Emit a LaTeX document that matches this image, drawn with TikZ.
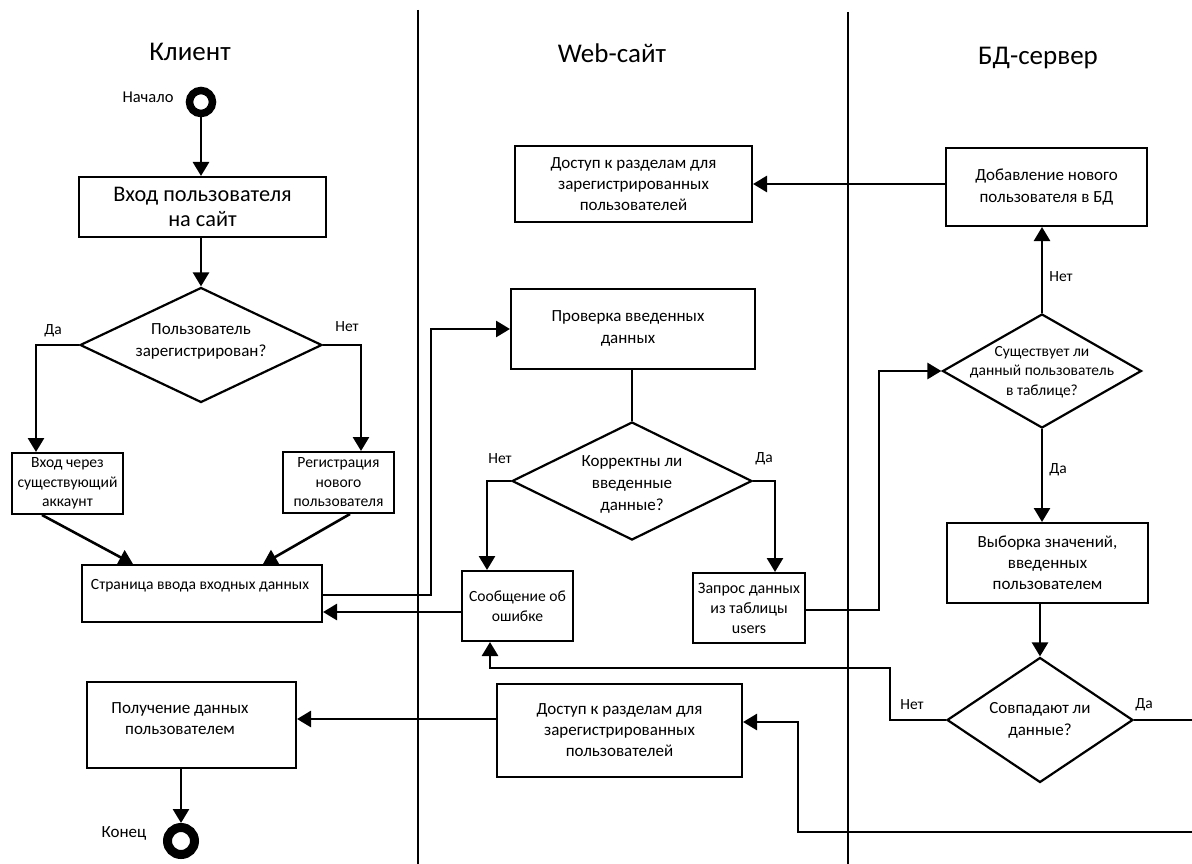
\documentclass[tikz,border=0pt]{standalone}
\usepackage{fontspec}
\setmainfont{Carlito}
\usetikzlibrary{arrows.meta,shapes.geometric,calc}
\newcommand{\fs}[2]{\fontsize{#1}{#2}\selectfont}
\begin{document}
\begin{tikzpicture}[x=1pt,y=-1pt,
  box/.style={draw, line width=2pt, align=center, inner sep=2pt, font=\fs{15.6}{19.5}},
  bigbox/.style={box, font=\fs{17}{21}},
  dec/.style={draw, diamond, line width=2.2pt, inner sep=0pt},
  dtext/.style={align=center, font=\fs{17}{22}},
  arr/.style={line width=2.6pt, -{Triangle[length=14pt,width=16pt]}},
  ln/.style={line width=2.6pt},
  lane/.style={line width=2.6pt},
  lbl/.style={font=\fs{15.5}{18}},
  hdr/.style={font=\fs{27}{30}},
  startc/.style={draw, circle, inner sep=0pt}]
\useasboundingbox[fill=white] (0,0) rectangle (1192,864);

% lanes
\coordinate (laneA1) at (418,10);
\coordinate (laneA2) at (418,870);
\coordinate (laneB1) at (848,12);
\coordinate (laneB2) at (848,870);
\draw[lane] (laneA1) -- (laneA2);
\draw[lane] (laneB1) -- (laneB2);

% headers
\node[hdr] (h1) at (190,52) {Клиент};
\node[hdr] (h2) at (612,53) {Web-сайт};
\node[hdr] (h3) at (1038,58) {БД-сервер};

% client lane
\node[startc, line width=7.5pt, minimum size=23pt] (start) at (201,102) {};
\node[lbl, font=\fs{16.5}{18}] (startl) at (148,97) {Начало};
\node[box, minimum width=247pt, minimum height=60pt, font=\fs{22.3}{25}] (b1) at (202.5,207) {Вход пользователя\\на сайт};
\node[dec, minimum width=242pt, minimum height=115pt] (d1) at (201,345) {};
\node[dtext] (d1t) at (201,341) {Пользователь\\зарегистрирован?};
\node[lbl] (d1y) at (53,331) {Да};
\node[lbl] (d1n) at (347,327) {Нет};
\node[box, minimum width=111pt, minimum height=61pt] (b2) at (67.5,483.5) {Вход через\\существующий\\аккаунт};
\node[box, minimum width=111pt, minimum height=61pt] (b3) at (338.5,482.5) {Регистрация\\нового\\пользователя};
\node[box, minimum width=240pt, minimum height=57pt] (b4) at (202,593.5) {};
\node[box, draw=none] (b4t) at (200,586) {Страница ввода входных данных};
\node[bigbox, minimum width=209pt, minimum height=86pt] (c1) at (191.5,725) {};
\node[bigbox, draw=none] (c1t) at (180,719) {Получение данных\\пользователем};
\node[startc, line width=9pt, minimum size=27pt] (stop) at (181,841) {};
\node[lbl, font=\fs{17}{18}] (stopl) at (124,833) {Конец};

% web lane
\node[bigbox, minimum width=237pt, minimum height=76pt] (w1) at (633.5,184) {Доступ к разделам для\\зарегистрированных\\пользователей};
\node[bigbox, minimum width=244pt, minimum height=80pt] (w2) at (633,329) {};
\node[bigbox, draw=none, font=\fs{17}{22}] (w2t) at (628,328) {Проверка введенных\\данных};
\node[dec, minimum width=240pt, minimum height=118pt] (wd) at (632,481) {};
\node[dtext] (wdt) at (632,484) {Корректны ли\\введенные\\данные?};
\node[lbl] (wdn) at (500,459) {Нет};
\node[lbl] (wdy) at (764,459) {Да};
\node[box, minimum width=111pt, minimum height=70pt, font=\fs{15.6}{20}] (w3) at (517.5,606) {Сообщение об\\ошибке};
\node[box, minimum width=112pt, minimum height=70pt, font=\fs{16}{20}] (w4) at (749,608) {Запрос данных\\из таблицы\\users};
\node[bigbox, minimum width=245pt, minimum height=93pt] (w5) at (619.5,730) {Доступ к разделам для\\зарегистрированных\\пользователей};

% db lane
\node[bigbox, minimum width=201pt, minimum height=78pt, font=\fs{17}{22}] (s1) at (1046.5,187) {Добавление нового\\пользователя в БД};
\node[dec, minimum width=199pt, minimum height=114pt] (sd1) at (1042,371) {};
\node[dtext, font=\fs{15.5}{19.5}] (sd1t) at (1042,372) {Существует ли\\данный пользователь\\в таблице?};
\node[lbl] (sd1n) at (1061,277) {Нет};
\node[lbl] (sd1y) at (1058,470) {Да};
\node[bigbox, minimum width=201pt, minimum height=80pt] (s2) at (1047.5,563) {Выборка значений,\\введенных\\пользователем};
\node[dec, minimum width=186pt, minimum height=125pt] (sd2) at (1040,720) {};
\node[dtext] (sd2t) at (1040,720) {Совпадают ли\\данные?};
\node[lbl] (sd2n) at (912,705) {Нет};
\node[lbl] (sd2y) at (1144,705) {Да};

% helper coordinates
\coordinate (xL) at (36,0);
\coordinate (xR) at (361,0);
\coordinate (k1) at (431,0);
\coordinate (k2) at (879,0);
\coordinate (k3) at (890,668);
\coordinate (k4) at (1200,832);
\coordinate (k5) at (798,832);

% connectors
\draw[arr] (start) -- (b1.north -| start);
\draw[arr] (d1.north |- b1.south) -- (d1.north);
\draw[arr] (d1.west) -| (b2.north -| xL);
\draw[arr] (d1.east) -| (b3.north -| xR);
\draw[arr] ([xshift=-25.5pt]b2.south) -- ([xshift=-69pt]b4.north);
\draw[arr] ([xshift=11.5pt]b3.south) -- ([xshift=61pt]b4.north);
\draw[arr] ([yshift=-1.5pt]b4.east) -| (k1 |- w2.west) -- (w2.west);
\draw[arr] ([yshift=-6pt]w3.west) coordinate (t1) -- (b4.east |- t1);
\draw[arr] (s1.west |- w1.east) -- (w1.east);
\draw[ln] (wd.north |- w2.south) -- (wd.north);
\draw[arr] (wd.west) -| ([xshift=-30.5pt]w3.north);
\draw[arr] (wd.east) -| ([xshift=26pt]w4.north);
\draw[arr] ([yshift=-2pt]w4.east) -| (k2 |- sd1.west) -- (sd1.west);
\draw[arr] (sd1.north) -- (sd1.north |- s1.south);
\draw[arr] (sd1.south) -- (sd1.south |- s2.north);
\draw[arr] (sd2.north |- s2.south) -- (sd2.north);
\draw[arr] (sd2.west) -| (k3) -| ([xshift=-27.5pt]w3.south);
\draw[arr] (sd2.east) -| (k4) -- (k5) |- ([yshift=8pt]w5.east);
\draw[arr] ([yshift=11pt]w5.west) coordinate (t2) -- (c1.east |- t2);
\draw[arr] (stop.north |- c1.south) -- (stop.north);
\end{tikzpicture}
\end{document}
